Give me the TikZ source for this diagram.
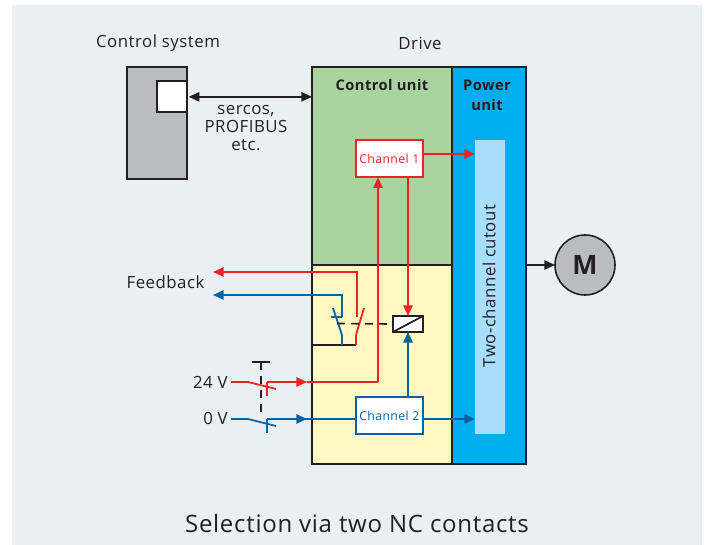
\documentclass[tikz,border=0pt]{standalone}
\usepackage{fontspec}
\usepackage{xcolor}
\usetikzlibrary{arrows.meta}
\setmainfont[LetterSpace=3]{Open Sans}
\definecolor{rolebg}{HTML}{E8F0F4}
\definecolor{roledark}{HTML}{231F20}
\definecolor{rolegrey}{HTML}{BBBCC0}
\definecolor{rolegreen}{HTML}{A9D4A0}
\definecolor{roleyellow}{HTML}{FFF8C2}
\definecolor{rolepower}{HTML}{00AEEF}
\definecolor{rolecut}{HTML}{A8DEFB}
\definecolor{rolered}{HTML}{EE2229}
\definecolor{roleblue}{HTML}{0A62A0}
\tikzset{
  panel/.style={draw=roledark, line width=1.5pt, inner sep=0pt, outer sep=0pt, anchor=north west},
  chanbox/.style={draw=#1, fill=white, text=#1, line width=1.4pt, inner sep=0pt, outer sep=0pt,
    minimum width=50pt, minimum height=28pt, font=\fontsize{9.2}{10}\selectfont},
  lab/.style={text=roledark, font=\fontsize{12.6}{13.5}\selectfont, inner sep=0pt},
  boldlab/.style={text=roledark, font=\fontsize{11}{14.5}\selectfont\bfseries, inner sep=0pt, align=center},
  tip/.style={-{Triangle[length=8pt,width=7pt]}},
  wire/.style={line width=1.35pt, #1},
  darkwire/.style={line width=1.25pt, roledark}
}
\begin{document}
\begin{tikzpicture}[x=0.75pt, y=-0.75pt]
    \useasboundingbox (0,0) rectangle (708,545);
    \fill[rolebg] (12,5) rectangle (702,545);

    % control system
    \node[panel, fill=rolegrey, minimum width=45pt, minimum height=84pt] (ctrlsys) at (126.7,66.7) {};
    \node[panel, fill=white, minimum width=22.5pt, minimum height=23pt, anchor=north east] (ctrlport) at (ctrlsys.north east |- 0,81.5) {};
    \node[lab] (ctrlname) at (158,43) {Control system};
    \node[lab] (drivename) at (420,43) {Drive};

    % drive
    \node[panel, fill=rolegreen, minimum width=105pt, minimum height=148.5pt] (ctrlunit) at (312,67) {};
    \node[panel, fill=roleyellow, minimum width=105pt, minimum height=149.25pt] (safeunit) at (312,265) {};
    \node[panel, fill=rolepower, minimum width=55.5pt, minimum height=297.75pt] (powerunit) at (452,67) {};
    \node[inner sep=0pt, fill=rolecut, minimum width=22.5pt, minimum height=220.5pt, anchor=north west] (cutout) at (475,140) {};
    \node[lab, rotate=90] (cutname) at (489,286) {Two-channel cutout};
    \node[boldlab] (ctrlname2) at (382,85) {Control unit};
    \node[boldlab] (powername) at (487,95.5) {Power\\unit};

    \node[chanbox=rolered, anchor=north west] (chone) at (356,140) {\raisebox{-1.5pt}{Channel 1}};
    \node[chanbox=roleblue, anchor=north west] (chtwo) at (356,397) {\raisebox{-1.5pt}{Channel 2}};
    \node[panel, fill=white, minimum width=22.5pt, minimum height=12pt] (relay) at (393,316) {};
    \draw[line width=1.3pt, roledark] (relay.south west) -- (relay.north east);

    \node[circle, draw=roledark, line width=1.2pt, fill=rolegrey, minimum size=45pt, inner sep=0pt, outer sep=0pt,
      font=\fontsize{20}{22}\selectfont\bfseries, text=roledark] (motor) at (585,265) {M};

    % bus
    \node[lab, align=center] (busname) at (246,128) {sercos,\\PROFIBUS\\etc.};
    \draw[darkwire, {Triangle[length=8pt,width=7pt]}-{Triangle[length=8pt,width=7pt]}]
      ([xshift=1.5pt]ctrlport.east) -- (ctrlport.east -| ctrlunit.west);
    \draw[darkwire, tip] (powerunit.east |- motor) -- (motor);

    % feedback
    \node[lab] (fbname) at (165.5,282) {Feedback};
    \node[lab, anchor=east] (vplus) at (228,382) {24 V};
    \node[lab, anchor=east] (vzero) at (228,418) {0 V};

    \coordinate (fbred) at (213,272);
    \coordinate (fbblue) at (213,295);
    \coordinate (redtop) at (357,317);
    \coordinate (bluetop) at (342,317);
    \coordinate (redbase) at (356,335);
    \coordinate (bluebase) at (342,335);
    \coordinate (rail) at (312,345);
    \draw[darkwire] (rail) -- (rail -| redbase);
    \draw[wire=rolered, tip] (redtop) |- (fbred);
    \draw[wire=roleblue, tip] (bluetop) |- (fbblue);
    \draw[wire=roleblue] (bluetop) -- ++(-11,0);
    \draw[wire=rolered] (364,308) -- (redbase) -- (redbase |- rail);
    \draw[wire=roleblue] (333,308) -- (bluebase) -- (bluebase |- rail);
    \draw[darkwire, dash pattern=on 6pt off 4.5pt] (337,323.5) -- (relay.west);

    % input contacts
    \coordinate (redpost) at (267,382);
    \coordinate (bluepost) at (267,419);
    \coordinate (redturn) at (378,382);
    \draw[wire=rolered] (231,382) -- (248,382) -- (276,389);
    \draw[wire=roleblue] (231,419) -- (248,419) -- (276,426);
    \draw[wire=rolered] (redpost) -- ++(0,14);
    \draw[wire=roleblue] (bluepost) -- ++(0,14);
    \draw[wire=rolered, tip] (redturn) -- (redturn |- chone.south);
    \draw[wire=rolered, tip] (redpost) -- (307,382);
    \draw[wire=rolered] (307,382) -- (redturn);
    \draw[wire=roleblue] (bluepost) -- (bluepost -| chtwo.west);
    \draw[wire=roleblue, tip] (bluepost) -- (307,419);
    \draw[darkwire, dash pattern=on 6pt off 4.5pt] (261,362) -- (261,417);
    \draw[darkwire] (252,362) -- (270,362);

    % channels
    \coordinate (oneout) at (423,154);
    \draw[wire=rolered, tip] (oneout) -- (oneout -| cutout.west);
    \draw[wire=roleblue, tip] (chtwo.east |- bluepost) -- (bluepost -| cutout.west);
    \draw[wire=rolered, tip] (relay.north |- chone.south) -- (relay.north);
    \draw[wire=roleblue, tip] (relay.south |- chtwo.north) -- (relay.south);

    \node[text=roledark, font=\fontsize{18}{20}\selectfont, inner sep=0pt] (caption) at (357,524)
      {Selection via two NC contacts};
  \end{tikzpicture}
\end{document}
